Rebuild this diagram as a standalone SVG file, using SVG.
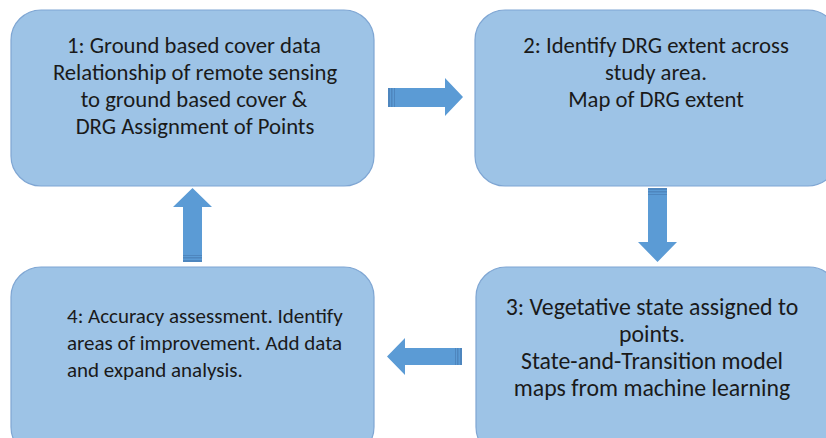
<svg xmlns="http://www.w3.org/2000/svg" width="826" height="438" viewBox="0 0 826 438">
<style>
.box{fill:#9DC3E6;stroke:#7FA6D3;stroke-width:1.2}
.t{font-family:Carlito,Calibri,"Liberation Sans",sans-serif;font-size:22.7px;fill:#1a1a1a}
.t3{font-size:23.8px}
.t4{font-size:21px}
.c{text-anchor:middle}
.arr{fill:#5B9BD5}
.str{fill:#4E86BE}
</style>
<rect width="826" height="438" fill="#ffffff"/>
<g id="node1">
<rect class="box" x="11" y="10" width="363" height="176" rx="30" ry="30"/>
<text class="t c" x="194" y="53">1: Ground based cover data</text>
<text class="t c" x="195" y="80">Relationship of remote sensing</text>
<text class="t c" x="194" y="107">to ground based cover &amp;</text>
<text class="t c" x="195" y="134">DRG Assignment of Points</text>
</g>
<g id="node2">
<rect class="box" x="475" y="10" width="363" height="176" rx="30" ry="30"/>
<text class="t c" x="656" y="53">2: Identify DRG extent across</text>
<text class="t c" x="656" y="80">study area.</text>
<text class="t c" x="656" y="107">Map of DRG extent</text>
</g>
<g id="node3">
<rect class="box" x="476" y="267" width="363" height="190" rx="30" ry="30"/>
<text class="t t3 c" x="652" y="315">3: Vegetative state assigned to</text>
<text class="t t3 c" x="652" y="342">points.</text>
<text class="t t3 c" x="652" y="369">State-and-Transition model</text>
<text class="t t3 c" x="652" y="396">maps from machine learning</text>
</g>
<g id="node4">
<rect class="box" x="11" y="267" width="363" height="190" rx="30" ry="30"/>
<text class="t t4" x="67" y="323">4: Accuracy assessment. Identify</text>
<text class="t t4" x="67" y="350">areas of improvement. Add data</text>
<text class="t t4" x="67" y="377">and expand analysis.</text>
</g>
<g id="connectors">
<g id="arrow-1-2">
<polygon class="arr" points="388,88 445,88 445,78 463,97 445,116 445,107 388,107"/>
<rect class="str" x="388" y="88" width="2" height="19"/>
<rect class="str" x="391" y="88" width="1.5" height="19"/>
<rect class="str" x="394" y="88" width="1" height="19"/>
</g>
<g id="arrow-2-3">
<polygon class="arr" points="648,188 667,188 667,242 677,242 657.5,262 638,242 648,242"/>
<rect class="str" x="648" y="188" width="19" height="2"/>
<rect class="str" x="648" y="191" width="19" height="1.5"/>
<rect class="str" x="648" y="194" width="19" height="1"/>
</g>
<g id="arrow-3-4">
<polygon class="arr" points="462,348 405,348 405,338 387,356.5 405,375 405,365 462,365"/>
<rect class="str" x="460" y="348" width="2" height="17"/>
<rect class="str" x="457" y="348" width="1.5" height="17"/>
<rect class="str" x="455" y="348" width="1" height="17"/>
</g>
<g id="arrow-4-1">
<polygon class="arr" points="183,262 202,262 202,207 212,207 192.5,188 173,207 183,207"/>
<rect class="str" x="183" y="260" width="19" height="2"/>
<rect class="str" x="183" y="257" width="19" height="1.5"/>
<rect class="str" x="183" y="255" width="19" height="1"/>
</g>
</g>
</svg>
